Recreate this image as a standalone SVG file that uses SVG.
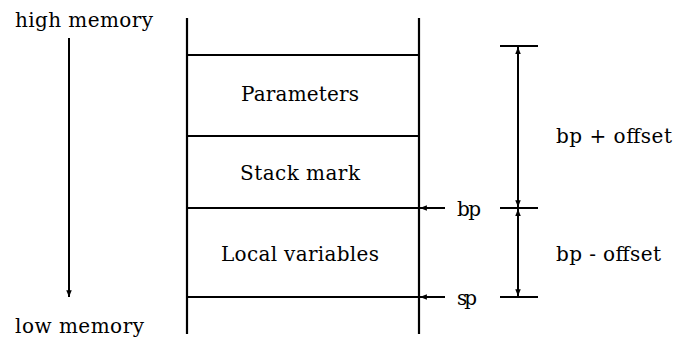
<svg xmlns="http://www.w3.org/2000/svg" width="674" height="340" viewBox="0 0 674 340">
<defs>
<style>
.t{font-family:'DejaVu Serif',serif;font-size:20px;fill:#000}
.l{stroke:#000;stroke-width:2.2;fill:none}
.a{stroke:#000;stroke-width:2;fill:none}
</style>
<marker id="ah" viewBox="0 0 10 8" refX="10" refY="4" markerWidth="8" markerHeight="5.5" markerUnits="userSpaceOnUse" orient="auto-start-reverse">
<path d="M0,0 L10,4 L0,8 Z" fill="#000"/>
</marker>
</defs>
<rect width="674" height="340" fill="#fff"/>
<g id="labels" class="t">
<text x="15" y="27" textLength="138" lengthAdjust="spacing">high memory</text>
<text x="15" y="333" textLength="129" lengthAdjust="spacing">low memory</text>
</g>
<g id="stack">
<line class="l" x1="187" y1="18" x2="187" y2="334"/>
<line class="l" x1="419" y1="18" x2="419" y2="334"/>
</g>
<g id="parameters" class="t">
<line class="l" x1="187" y1="55" x2="419" y2="55"/>
<text x="300" y="101" text-anchor="middle" textLength="118" lengthAdjust="spacing">Parameters</text>
</g>
<g id="stack-mark" class="t">
<line class="l" x1="187" y1="136" x2="419" y2="136"/>
<text x="300" y="180" text-anchor="middle" textLength="120" lengthAdjust="spacing">Stack mark</text>
</g>
<g id="local-variables" class="t">
<line class="l" x1="187" y1="208" x2="419" y2="208"/>
<line class="l" x1="187" y1="297" x2="419" y2="297"/>
<text x="300" y="261" text-anchor="middle" textLength="158" lengthAdjust="spacing">Local variables</text>
</g>
<g id="bp-label" class="t">
<text x="457" y="216" textLength="24" lengthAdjust="spacing">bp</text>
</g>
<g id="sp-label" class="t">
<text x="457" y="305" textLength="20" lengthAdjust="spacing">sp</text>
</g>
<g id="ticks">
<line class="l" x1="500" y1="46" x2="538" y2="46"/>
<line class="l" x1="500" y1="208" x2="538" y2="208"/>
<line class="l" x1="500" y1="297" x2="538" y2="297"/>
</g>
<g id="bp-plus-offset" class="t">
<text x="556" y="143" textLength="116" lengthAdjust="spacing">bp + offset</text>
</g>
<g id="bp-minus-offset" class="t">
<text x="556" y="261" textLength="105" lengthAdjust="spacing">bp - offset</text>
</g>
<g id="connectors">
<line class="a" x1="69" y1="38" x2="69" y2="297" marker-end="url(#ah)" stroke-width="2.6"/>
<line class="a" x1="445" y1="208" x2="420" y2="208" marker-end="url(#ah)"/>
<line class="a" x1="445" y1="297" x2="420" y2="297" marker-end="url(#ah)"/>
<line class="a" x1="518" y1="47" x2="518" y2="207" marker-start="url(#ah)" marker-end="url(#ah)"/>
<line class="a" x1="518" y1="209" x2="518" y2="296" marker-start="url(#ah)" marker-end="url(#ah)"/>
</g>
</svg>
